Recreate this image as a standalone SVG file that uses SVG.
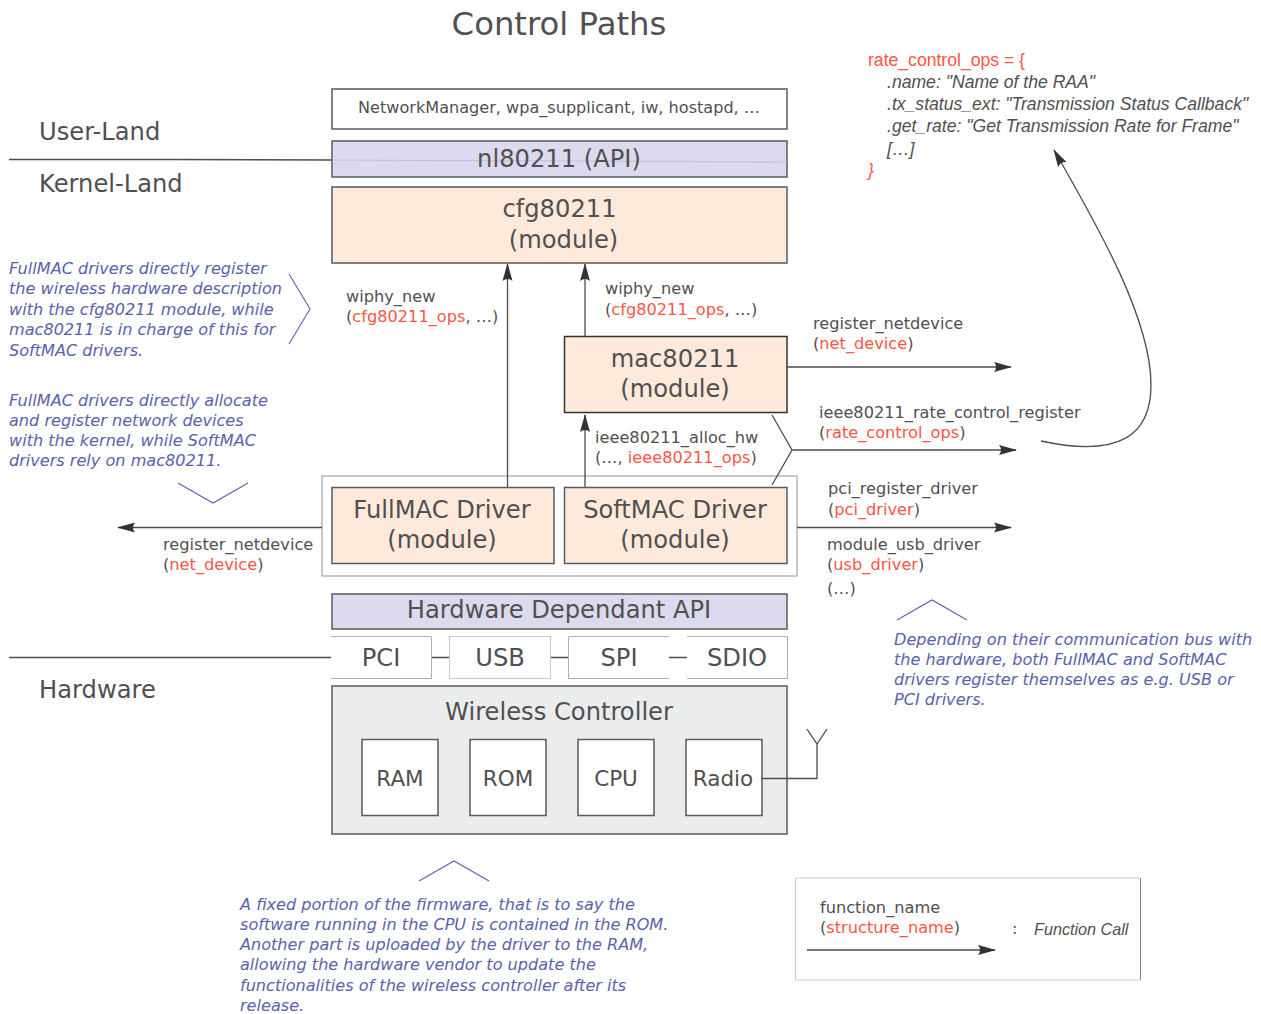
<svg xmlns="http://www.w3.org/2000/svg" width="1261" height="1014" viewBox="0 0 1261 1014">
<style>
text{font-family:"DejaVu Sans",sans-serif;fill:#505050}
.t25{font-size:24.2px}.t17{font-size:16.1px}.t16{font-size:16.2px}
.m{text-anchor:middle}
text.r,.r{fill:#ff5544}
text.n{font-size:16.1px;font-style:italic;fill:#5a62ad}
text.c{font-family:"Liberation Sans",sans-serif;font-size:17.6px;font-style:italic}
.box{stroke:#5a5a5a;stroke-width:1.5}
.peach{fill:#ffe9db}.lav{fill:#dcdaee}
.l{fill:none;stroke:#4d4d4d;stroke-width:1.3}
.b{fill:none;stroke:#5a62ad;stroke-width:1.1}
</style>
<defs>
<marker id="a" viewBox="0 0 18 12" refX="17" refY="6" markerUnits="userSpaceOnUse" markerWidth="18" markerHeight="12" orient="auto">
<path d="M18 6 L0 1 Q4 6 0 11 Z" fill="#333" stroke="none"/>
</marker>
</defs>
<text class="m" x="559" y="35" style="font-size:32.3px">Control Paths</text>
<g id="lands">
<text class="t25" x="39" y="140">User-Land</text>
<text class="t25" x="39" y="192">Kernel-Land</text>
<text class="t25" x="39" y="698">Hardware</text>
</g>
<g id="braces">
<path class="b" d="M289 274 L310 309 L289 344"/>
<path class="b" d="M178 483 L213 503 L248 483"/>
<path class="b" d="M897 620 L932 600 L967 620"/>
<path class="b" d="M419 881 L454 861 L489 881"/>
</g>
<g id="userspace"><rect x="332" y="89" width="455" height="40" fill="#fff" class="box"/>
<text class="t17 m" x="559" y="113">NetworkManager, wpa_supplicant, iw, hostapd, …</text></g>
<g id="nl80211"><rect x="332" y="141" width="455" height="36" class="box lav"/>
<path d="M332 160 L787 162" stroke="#c4c2d8" stroke-width="1.2" fill="none"/>
<text class="t25 m" x="559" y="167">nl80211 (API)</text></g>
<g id="cfg80211"><rect x="332" y="187" width="455" height="76" class="box peach"/>
<text class="t25 m" x="559.500" y="217">cfg80211</text><text class="t25 m" x="563.500" y="248">(module)</text></g>
<g id="mac80211"><rect x="564.500" y="336.500" width="222.500" height="76" class="box peach" style="stroke:#333"/>
<text class="t25 m" x="675" y="367">mac80211</text><text class="t25 m" x="675" y="397">(module)</text></g>
<g id="drivers"><rect x="322" y="476" width="475" height="100" fill="none" stroke="#b3b3b3" stroke-width="1.4"/></g>
<g id="fullmac"><rect x="332" y="487.500" width="222" height="76" class="box peach"/>
<text class="t25 m" x="442" y="518">FullMAC Driver</text><text class="t25 m" x="442" y="548">(module)</text></g>
<g id="softmac"><rect x="564.500" y="487.500" width="222.500" height="76" class="box peach"/>
<text class="t25 m" x="675" y="518">SoftMAC Driver</text><text class="t25 m" x="675" y="548">(module)</text></g>
<g id="hwapi"><rect x="332" y="594" width="455" height="35" class="box lav"/>
<text class="t25 m" x="559" y="618">Hardware Dependant API</text></g>
<g id="pci"><path d="M331 636.500 H431.500 V678.500 H331" fill="#fff" stroke="#b0b0b0"/><text class="t25 m" x="381" y="666">PCI</text></g>
<g id="usb"><rect x="449.500" y="636.500" width="101" height="42" fill="#fff" stroke="#c8c8c8"/><text class="t25 m" x="500" y="666">USB</text></g>
<g id="spi"><path d="M669 636.500 H568.500 V678.500 H669" fill="#fff" stroke="#b0b0b0"/><text class="t25 m" x="619" y="666">SPI</text></g>
<g id="sdio"><path d="M687 636.500 H787.500 V678.500 H687" fill="#fff" stroke="#b0b0b0"/><text class="t25 m" x="737" y="666">SDIO</text></g>
<g id="controller"><rect x="332" y="686" width="455" height="148" fill="#ebecee" class="box"/>
<text class="t25 m" x="559" y="720">Wireless Controller</text></g>
<g id="ram"><rect x="362" y="739.500" width="76" height="76" fill="#fff" class="box"/><text class="m" x="400" y="786" style="font-size:21.5px">RAM</text></g>
<g id="rom"><rect x="470" y="739.500" width="76" height="76" fill="#fff" class="box"/><text class="m" x="508" y="786" style="font-size:21.5px">ROM</text></g>
<g id="cpu"><rect x="578" y="739.500" width="76" height="76" fill="#fff" class="box"/><text class="m" x="616" y="786" style="font-size:21.5px">CPU</text></g>
<g id="radio"><rect x="686" y="739.500" width="76" height="76" fill="#fff" class="box"/><text class="m" x="723" y="786" style="font-size:21.5px">Radio</text></g>
<g id="connectors">
<path class="l" d="M9 159.500 H170 L332 160"/>
<path class="l" d="M9 657.500 H331"/>
<path class="l" d="M432 657.500 H449 M551 657.500 H568 M669 657.500 H687"/>
<path class="l" d="M507.500 487 V264" marker-end="url(#a)"/>
<path class="l" d="M585 336 V264" marker-end="url(#a)"/>
<path class="l" d="M585 487 V415" marker-end="url(#a)"/>
<path class="l" d="M787 367 H1011" marker-end="url(#a)"/>
<path class="l" d="M772 415 L792 450 L772 485 M792 450 H1016" marker-end="url(#a)"/>
<path class="l" d="M1041 441 C1120 458 1151 435 1151 385 C1151 320 1100 230 1054 150" marker-end="url(#a)"/>
<path class="l" d="M797 527.500 H1011" marker-end="url(#a)"/>
<path class="l" d="M322 527.500 H118" marker-end="url(#a)"/>
<path class="l" d="M762 778.500 H817 V744 M807 729 L817 744 L827 729"/>
</g>
<g id="labels">
<text class="t16" x="346" y="302">wiphy_new</text><text class="t16" x="346" y="322">(<tspan class="r">cfg80211_ops</tspan>, …)</text>
<text class="t16" x="605" y="294">wiphy_new</text><text class="t16" x="605" y="315">(<tspan class="r">cfg80211_ops</tspan>, …)</text>
<text class="t16" x="813" y="329">register_netdevice</text><text class="t16" x="813" y="349">(<tspan class="r">net_device</tspan>)</text>
<text class="t16" x="819" y="418">ieee80211_rate_control_register</text><text class="t16" x="819" y="438">(<tspan class="r">rate_control_ops</tspan>)</text>
<text class="t16" x="595" y="443">ieee80211_alloc_hw</text><text class="t16" x="595" y="463">(…, <tspan class="r">ieee80211_ops</tspan>)</text>
<text class="t16" x="828" y="494">pci_register_driver</text><text class="t16" x="828" y="515">(<tspan class="r">pci_driver</tspan>)</text>
<text class="t16" x="827" y="550">module_usb_driver</text><text class="t16" x="827" y="570">(<tspan class="r">usb_driver</tspan>)</text><text class="t16" x="827" y="594">(…)</text>
<text class="t16" x="163" y="550">register_netdevice</text><text class="t16" x="163" y="570">(<tspan class="r">net_device</tspan>)</text>
</g>
<g id="code">
<text class="c r" style="font-style:normal" x="868" y="66">rate_control_ops = {</text>
<text class="c" x="887" y="88">.name: "Name of the RAA"</text>
<text class="c" x="887" y="110">.tx_status_ext: "Transmission Status Callback"</text>
<text class="c" x="887" y="132">.get_rate: "Get Transmission Rate for Frame"</text>
<text class="c" x="887" y="155">[…]</text>
<text class="c r" x="868" y="176">}</text>
</g>
<g id="notes">
<text class="n" x="9" y="274">FullMAC drivers directly register</text>
<text class="n" x="9" y="294">the wireless hardware description</text>
<text class="n" x="9" y="315">with the cfg80211 module, while</text>
<text class="n" x="9" y="335">mac80211 is in charge of this for</text>
<text class="n" x="9" y="356">SoftMAC drivers.</text>
<text class="n" x="9" y="406">FullMAC drivers directly allocate</text>
<text class="n" x="9" y="426">and register network devices</text>
<text class="n" x="9" y="446">with the kernel, while SoftMAC</text>
<text class="n" x="9" y="466">drivers rely on mac80211.</text>
<text class="n" x="894" y="645">Depending on their communication bus with</text>
<text class="n" x="894" y="665">the hardware, both FullMAC and SoftMAC</text>
<text class="n" x="894" y="685">drivers register themselves as e.g. USB or</text>
<text class="n" x="894" y="705">PCI drivers.</text>
<text class="n" x="240" y="910">A fixed portion of the firmware, that is to say the</text>
<text class="n" x="240" y="930">software running in the CPU is contained in the ROM.</text>
<text class="n" x="240" y="950">Another part is uploaded by the driver to the RAM,</text>
<text class="n" x="240" y="970">allowing the hardware vendor to update the</text>
<text class="n" x="240" y="991">functionalities of the wireless controller after its</text>
<text class="n" x="240" y="1011">release.</text>
</g>
<g id="legend">
<path d="M795.500 878 H1140.500 V980 H795.500 Z" fill="none" stroke="#c8c8c8"/>
<path d="M1140.500 878 V980" fill="none" stroke="#808080"/>
<path class="l" d="M807 950 H995" marker-end="url(#a)"/>
<text class="t16" x="820" y="913">function_name</text><text class="t16" x="820" y="933">(<tspan class="r">structure_name</tspan>)</text>
<text class="t16" x="1012" y="934">:</text>
<text class="c" style="font-size:16.2px" x="1034" y="935">Function Call</text>
</g>
</svg>
